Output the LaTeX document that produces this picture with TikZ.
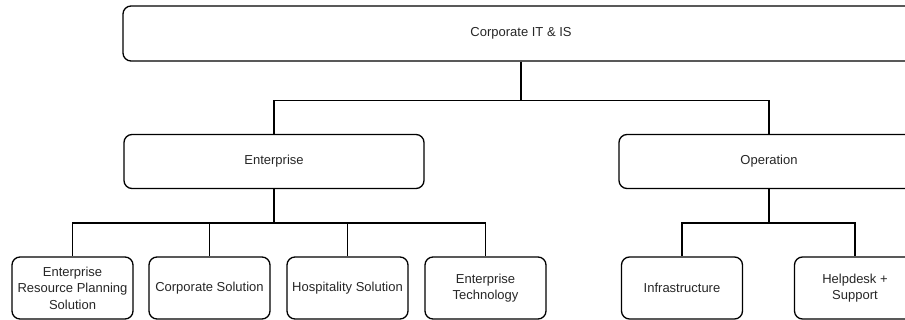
\documentclass[tikz,border=0pt]{standalone}
\usepackage{fontspec}
\setmainfont{Liberation Sans}
\usetikzlibrary{positioning}

\begin{document}
\begin{tikzpicture}[x=1pt,y=-1pt,line width=1.3pt,
                    box/.style={draw,rounded corners=8pt,align=center,
                                inner sep=0pt,text=black!85,
                                font=\fontsize{13}{16.5}\selectfont},
                    unit/.style={box,minimum width=300pt,minimum height=54pt},
                    team/.style={box,minimum width=121pt,minimum height=62pt}]
          \useasboundingbox (0,0) rectangle (905,320);
          \clip (0,0) rectangle (905,320);

          \node[box,minimum width=796pt,minimum height=55pt] (it) at (521,33.5) {Corporate IT \& IS};
          \node[unit] (ent) at (274,161.5) {Enterprise};
          \node[unit] (ops) at (769,161.5) {Operation};

          \node[team] (erp)   at (72.5,288)  {Enterprise\\Resource Planning\\Solution};
          \node[team] (corp)  at (209.5,288) {Corporate Solution};
          \node[team] (hosp)  at (347.5,288) {Hospitality Solution};
          \node[team] (tech)  at (485.5,288) {Enterprise\\Technology};
          \node[team] (infra) at (682,288)   {Infrastructure};
          \node[team] (help)  at (855,288)   {Helpdesk +\\Support};

          \draw (it.south) -- ++(0,39) -| (ent.north);
          \draw (it.south) -- ++(0,39) -| (ops.north);
          \foreach \t in {erp,corp,hosp,tech}
            \draw (ent.south) -- ++(0,34) -| (\t.north);
          \foreach \t in {infra,help}
            \draw (ops.south) -- ++(0,34) -| (\t.north);

        \end{tikzpicture}
\end{document}
